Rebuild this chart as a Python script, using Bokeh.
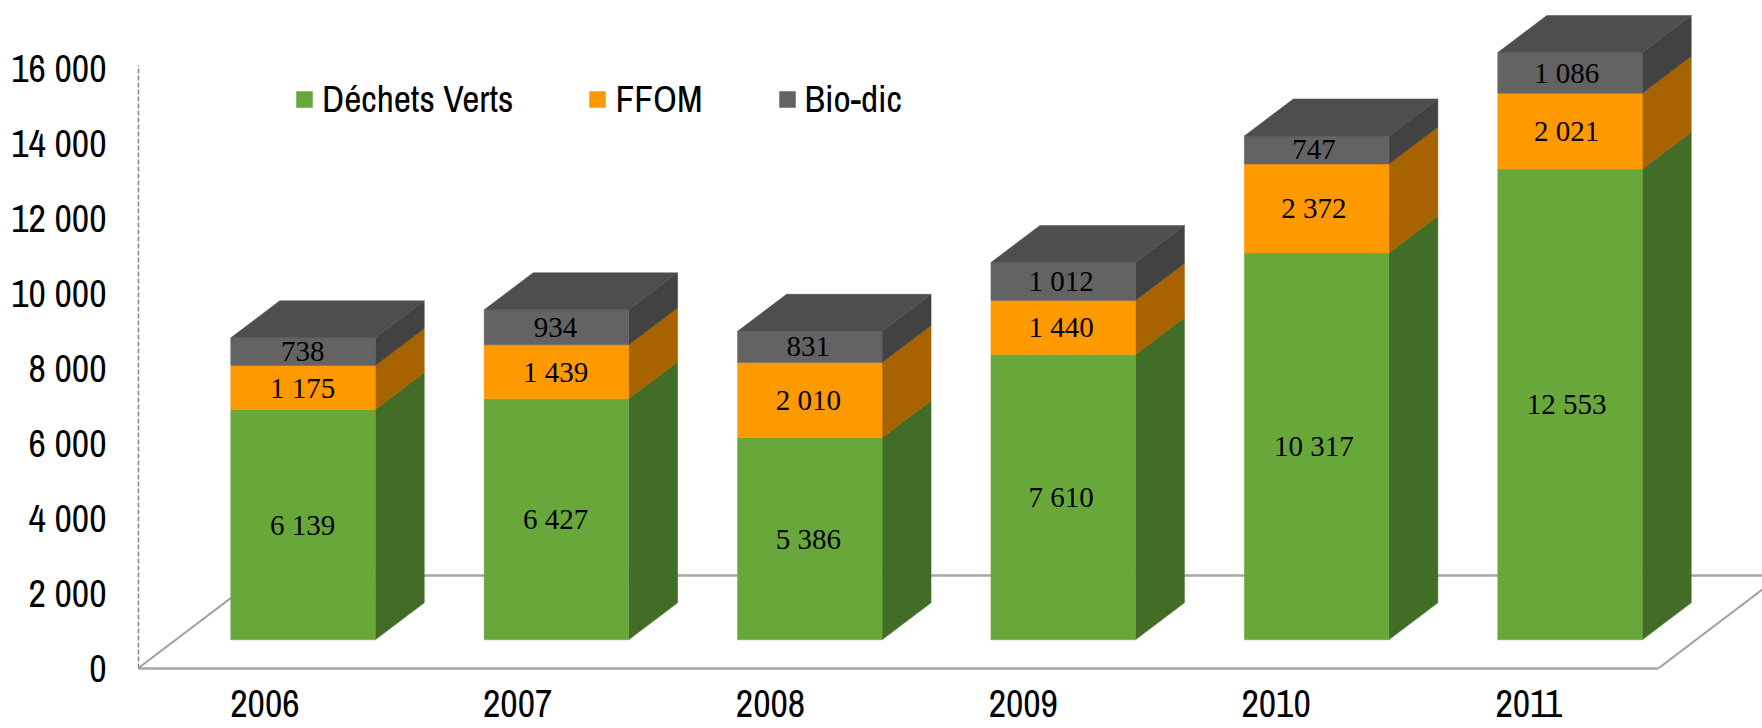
from bokeh.plotting import figure
from bokeh.models import Range1d, FixedTicker, Legend, LegendItem
from bokeh.embed import file_html
from bokeh.resources import INLINE
from bokeh.core.properties import value

years = ["2006", "2007", "2008", "2009", "2010", "2011"]
dechets_verts = [6139, 6427, 5386, 7610, 10317, 12553]
ffom = [1175, 1439, 2010, 1440, 2372, 2021]
bio_dic = [738, 934, 831, 1012, 747, 1086]
y_ticks = [0, 2000, 4000, 6000, 8000, 10000, 12000, 14000, 16000]
y_tick_labels = ["0", "2 000", "4 000", "6 000", "8 000", "10 000", "12 000", "14 000", "16 000"]

series = [
    ("Déchets Verts", dechets_verts, "#68A83A", "#426D27"),
    ("FFOM", ffom, "#FF9900", "#A66300"),
    ("Bio-dic", bio_dic, "#636363", "#424242"),
]
TOP_FACE = "#4E4E4E"
SANS = "Archivo Narrow"

W, H = 1762, 728
PX_PER_CAT = 253.4
PX_PER_VAL = 0.0375
AXIS_X = 138.0
ZERO_Y = 667.5
LABEL_PITCH = 252.8 / PX_PER_CAT   # texts run on a slightly tighter pitch than the columns

BAR_W = 144.5 / PX_PER_CAT
BAR_DX = 37.8 / PX_PER_CAT
BAR_BASE = 28.2 / PX_PER_VAL
SIDE_DX = 49 / PX_PER_CAT
SIDE_DY = 37 / PX_PER_VAL
FLOOR_DX = 122 / PX_PER_CAT
FLOOR_DY = 92.5 / PX_PER_VAL

p = figure(
    width=W, height=H, output_backend="svg", toolbar_location=None,
    x_range=Range1d(-AXIS_X / PX_PER_CAT, (W - AXIS_X) / PX_PER_CAT),
    y_range=Range1d((ZERO_Y - H) / PX_PER_VAL, ZERO_Y / PX_PER_VAL),
    min_border=0, min_border_left=0, min_border_right=0, min_border_top=0, min_border_bottom=0,
    outline_line_color=None, background_fill_color="white", border_fill_color="white",
)
p.grid.visible = False

n = len(years)
centers = [i + 0.5 for i in range(n)]
bar_x = [c + BAR_DX for c in centers]
tick_x = [c * LABEL_PITCH for c in centers]
text_x = [c * LABEL_PITCH + BAR_DX for c in centers]

FLOOR = "#A6A6A6"
p.line([FLOOR_DX, n + FLOOR_DX], [FLOOR_DY, FLOOR_DY], line_color=FLOOR, line_width=2.5)
p.line([0, FLOOR_DX], [0, FLOOR_DY], line_color="#9E9E9E", line_width=2)
p.line([n, n + FLOOR_DX], [0, FLOOR_DY], line_color="#9E9E9E", line_width=2)

xa = p.xaxis[0]
xa.fixed_location = 0
xa.bounds = (0, n)
xa.ticker = FixedTicker(ticks=tick_x)
xa.major_label_overrides = dict(zip(tick_x, years))
xa.axis_line_color = FLOOR
xa.axis_line_width = 2.5
xa.major_tick_line_color = None
xa.minor_tick_line_color = None
xa.major_label_text_font = SANS
xa.major_label_text_font_size = "38px"
xa.major_label_text_color = "black"
xa.major_label_standoff = 16

ya = p.yaxis[0]
ya.fixed_location = 0
ya.bounds = (0, 16070)
ya.ticker = FixedTicker(ticks=y_ticks)
ya.major_label_overrides = dict(zip(y_ticks, y_tick_labels))
ya.axis_line_color = "#8C8C8C"
ya.axis_line_width = 1.6
ya.axis_line_dash = "5 2"
ya.major_tick_line_color = None
ya.minor_tick_line_color = None
ya.major_label_text_font = SANS
ya.major_label_text_font_size = "38px"
ya.major_label_text_color = "black"
ya.major_label_standoff = 26

bottoms = [BAR_BASE] * n
items = []
for name, vals, front, side in series:
    tops = [b + v for b, v in zip(bottoms, vals)]
    xs = [[x + BAR_W / 2, x + BAR_W / 2 + SIDE_DX, x + BAR_W / 2 + SIDE_DX, x + BAR_W / 2] for x in bar_x]
    ys = [[b, b + SIDE_DY, t + SIDE_DY, t] for b, t in zip(bottoms, tops)]
    p.patches(xs, ys, fill_color=side, line_color=side, line_width=0.5)
    r = p.vbar(x=bar_x, width=BAR_W, bottom=bottoms, top=tops,
               fill_color=front, line_color=front, line_width=0.5)
    items.append(LegendItem(label=name, renderers=[r]))
    mids = [(b + t) / 2 for b, t in zip(bottoms, tops)]
    txt = [f"{v:,}".replace(",", " ") for v in vals]
    p.text(x=text_x, y=mids, text=txt, text_font=value("Liberation Serif"),
           text_font_size="29px", text_color="black", text_align="center", text_baseline="middle")
    bottoms = tops

xs = [[x - BAR_W / 2, x + BAR_W / 2, x + BAR_W / 2 + SIDE_DX, x - BAR_W / 2 + SIDE_DX] for x in bar_x]
ys = [[t, t, t + SIDE_DY, t + SIDE_DY] for t in bottoms]
p.patches(xs, ys, fill_color=TOP_FACE, line_color=TOP_FACE, line_width=0.5)

legend = Legend(
    items=items, orientation="horizontal", location=(294, 604),
    background_fill_alpha=0, border_line_color=None, padding=0, margin=0,
    glyph_width=20, glyph_height=20, label_standoff=8, spacing=74,
    label_text_font=SANS, label_text_font_size="37.5px",
    label_text_color="black", label_height=20,
)
p.add_layout(legend)

open("out.html", "w").write(file_html(p, INLINE))
